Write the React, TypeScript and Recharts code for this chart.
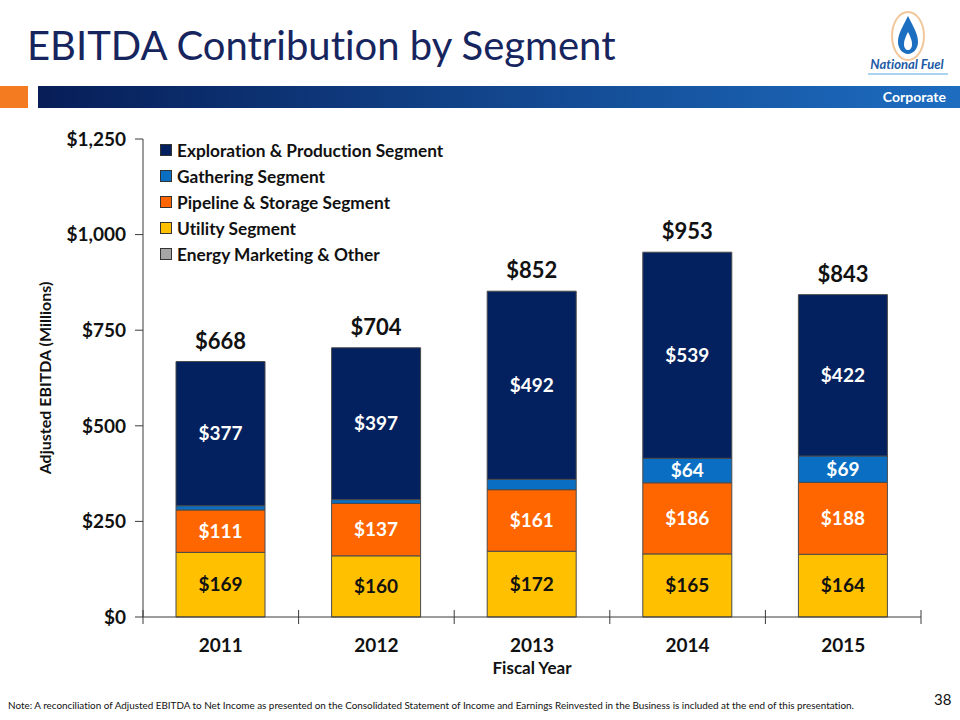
import { BarChart, Bar, XAxis, YAxis, Legend, LabelList } from 'recharts';

const years = ['2011', '2012', '2013', '2014', '2015'];
const utility = [169, 160, 172, 165, 164];
const pipeline = [111, 137, 161, 186, 188];
const gathering = [11, 10, 27, 64, 69];
const marketing = [0, 0, 0, 0, 0];
const exploration = [377, 397, 492, 539, 422];
const totals = [668, 704, 852, 953, 843];
const yTicks = [0, 250, 500, 750, 1000, 1250];

const FONT = 'Lato, "Open Sans", sans-serif';
const AXIS = '#3a3a3a';

const data = years.map((year, i) => ({
  year,
  utility: utility[i],
  pipeline: pipeline[i],
  gathering: gathering[i],
  marketing: marketing[i],
  exploration: exploration[i],
}));

const legendItems = [
  { name: 'Exploration & Production Segment', color: '#03215E' },
  { name: 'Gathering Segment', color: '#0A6FC2' },
  { name: 'Pipeline & Storage Segment', color: '#FF6600' },
  { name: 'Utility Segment', color: '#FFC000' },
  { name: 'Energy Marketing & Other', color: '#A6A6A6' },
];

const money = (v: number) => '$' + v.toLocaleString('en-US');

function SegmentLegend() {
  return (
    <div style={{ fontFamily: FONT, fontWeight: 700, fontSize: 17.3, color: '#111' }}>
      {legendItems.map((it) => (
        <div key={it.name} style={{ display: 'flex', alignItems: 'center', height: 26, whiteSpace: 'nowrap' }}>
          <span
            style={{
              width: 10,
              height: 10,
              background: it.color,
              border: '1px solid #333',
              marginRight: 5,
              display: 'inline-block',
              flexShrink: 0,
            }}
          />
          {it.name}
        </div>
      ))}
    </div>
  );
}

function YearTick(props: any) {
  const { x, y, payload, index, width, visibleTicksCount } = props;
  const band = (width || 778) / (visibleTicksCount || 5);
  return (
    <g>
      <line x1={x - band / 2} x2={x - band / 2} y1={y - 7} y2={y + 7} stroke={AXIS} />
      {index === (visibleTicksCount || 5) - 1 && (
        <line x1={x + band / 2} x2={x + band / 2} y1={y - 7} y2={y + 7} stroke={AXIS} />
      )}
      <text x={x} y={y + 35} textAnchor="middle" fontFamily={FONT} fontWeight={700} fontSize={19} fill="#111">
        {payload.value}
      </text>
    </g>
  );
}

function TotalLabel(props: any) {
  const { x, y, width, index } = props;
  return (
    <text x={x + width / 2} y={y - 13} textAnchor="middle" fontFamily={FONT} fontWeight={700} fontSize={22} fill="#111">
      {money(totals[index])}
    </text>
  );
}

const inner = (color: string) => ({
  position: 'center' as const,
  fill: color,
  fontFamily: FONT,
  fontWeight: 700,
  fontSize: 19,
  formatter: (v: any) => (Number(v) >= 50 ? money(Number(v)) : ''),
});

function Logo() {
  return (
    <svg width={90} height={75} style={{ position: 'absolute', left: 862, top: 6 }}>
      <ellipse cx={46} cy={30} rx={16} ry={24} fill="#fff" stroke="#F2C79A" strokeWidth={2} />
      <path d="M46 10 C40 22 36 28 36 36 C36 43 41 48 46 48 C51 48 56 43 56 36 C56 28 52 22 46 10 Z" fill="#1C6FC0" />
      <path d="M46 26 C43 32 42 35 42 38 C42 42 44 44 46 44 C48 44 50 42 50 38 C50 35 49 32 46 26 Z" fill="#fff" />
      <text x={45} y={63} textAnchor="middle" fontFamily={FONT} fontStyle="italic" fontWeight={700} fontSize={13} fill="#1D5AA6">
        National Fuel
      </text>
      <line x1={6} x2={86} y1={68} y2={68} stroke="#8EC5E8" strokeWidth={1.5} />
    </svg>
  );
}

export default function App() {
  return (
    <div
      style={{
        position: 'absolute',
        left: 0,
        top: 0,
        width: 960,
        height: 720,
        background: '#fff',
        fontFamily: FONT,
        fontVariantLigatures: 'none',
        overflow: 'hidden',
      }}
    >
      <div style={{ position: 'absolute', left: 27, top: 21, fontSize: 40, color: '#17255E', whiteSpace: 'nowrap' }}>
        EBITDA Contribution by Segment
      </div>
      <Logo />
      <div style={{ position: 'absolute', left: 0, top: 86, width: 28, height: 22, background: '#F47B20' }} />
      <div
        style={{
          position: 'absolute',
          left: 38,
          top: 86,
          width: 922,
          height: 22,
          background: 'linear-gradient(to right, #071E58, #1D6DC1)',
        }}
      >
        <div style={{ position: 'absolute', right: 14, top: 2, color: '#fff', fontWeight: 700, fontSize: 14 }}>Corporate</div>
      </div>

      <div style={{ position: 'absolute', left: 0, top: 0 }}>
        <BarChart width={960} height={720} data={data} margin={{ top: 139, right: 39, bottom: 43, left: 43 }} barSize={89}>
          <XAxis
            dataKey="year"
            axisLine={{ stroke: AXIS }}
            tickLine={false}
            tickSize={0}
            tickMargin={0}
            tick={<YearTick />}
            height={60}
            interval={0}
            label={{ value: 'Fiscal Year', position: 'insideBottom', offset: 3, fontFamily: FONT, fontWeight: 700, fontSize: 17, fill: '#111' }}
          />
          <YAxis
            domain={[0, 1250]}
            ticks={yTicks}
            tickFormatter={money}
            width={100}
            axisLine={{ stroke: AXIS }}
            tickLine={{ stroke: AXIS }}
            tickSize={8}
            tickMargin={9}
            tick={{ fontFamily: FONT, fontWeight: 700, fontSize: 19, fill: '#111' }}
            label={{
              value: 'Adjusted EBITDA (Millions)',
              angle: -90,
              position: 'insideLeft',
              offset: 2,
              style: { textAnchor: 'middle' },
              fontFamily: FONT,
              fontWeight: 700,
              fontSize: 16,
              fill: '#111',
            }}
          />
          <Legend
            content={<SegmentLegend />}
            layout="horizontal"
            verticalAlign="middle"
            align="center"
            wrapperStyle={{ left: 160, top: 137, width: 320, height: 135 }}
          />
          <Bar dataKey="utility" stackId="a" fill="#FFC000" stroke="#4a4a4a" strokeWidth={1} isAnimationActive={false}>
            <LabelList dataKey="utility" {...inner('#111')} />
          </Bar>
          <Bar dataKey="pipeline" stackId="a" fill="#FF6600" stroke="#4a4a4a" strokeWidth={1} isAnimationActive={false}>
            <LabelList dataKey="pipeline" {...inner('#fff')} />
          </Bar>
          <Bar dataKey="gathering" stackId="a" fill="#0A6FC2" stroke="#4a4a4a" strokeWidth={1} isAnimationActive={false}>
            <LabelList dataKey="gathering" {...inner('#fff')} />
          </Bar>
          <Bar dataKey="marketing" stackId="a" fill="#A6A6A6" stroke="#4a4a4a" strokeWidth={1} isAnimationActive={false} />
          <Bar dataKey="exploration" stackId="a" fill="#03215E" stroke="#4a4a4a" strokeWidth={1} isAnimationActive={false}>
            <LabelList dataKey="exploration" {...inner('#fff')} />
            <LabelList dataKey="exploration" content={<TotalLabel />} />
          </Bar>
        </BarChart>
      </div>

      <div style={{ position: 'absolute', left: 8, top: 699, fontSize: 9.9, color: '#111', whiteSpace: 'nowrap' }}>
        Note: A reconciliation of Adjusted EBITDA to Net Income as presented on the Consolidated Statement of Income and Earnings Reinvested in the Business is included at the end of this presentation.
      </div>
      <div style={{ position: 'absolute', left: 934, top: 690, fontSize: 15, color: '#111' }}>38</div>
    </div>
  );
}
